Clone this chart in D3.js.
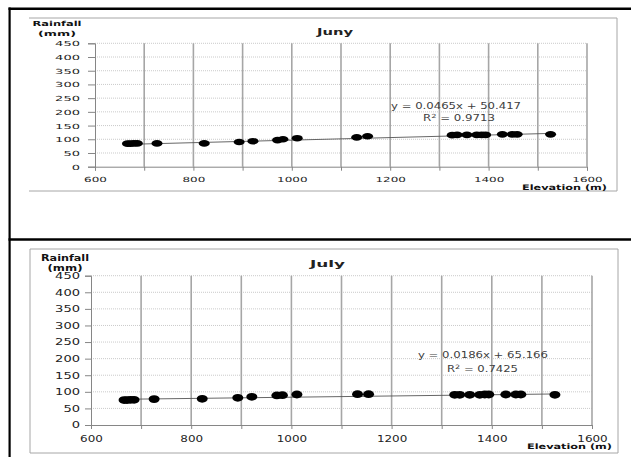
<!DOCTYPE html>
<html><head><meta charset="utf-8">
<script src="https://cdn.jsdelivr.net/npm/d3@7"></script>
<style>html,body{margin:0;padding:0;background:#fff;overflow:hidden}</style>
</head><body><svg id="c" width="631" height="457"></svg>
<script>
// ---------- data ----------
const elevation = [666,672,679,686,726,822,893,921,971,982,1011,1132,1154,1326,1336,1356,1376,1386,1394,1428,1448,1458,1526];
const juneRain  = [84,84,85,85,85,85,90,93,97,100,104,107,111,115,116,116,116,116,116,118,118,118,118];
const julyRain  = [75,75,76,76,78,79,82,85,89,90,92,93,93,91,91,91,91,92,92,92,92,92,91];
const chartTitles = ["Juny","July"];
const trendSlope = [0.0465, 0.0186];
const trendIntercept = [50.417, 65.166];
const trendR2 = [0.9713, 0.7425];
const yTickValues = [0,50,100,150,200,250,300,350,400,450];
const xGridValues = [600,700,800,900,1000,1100,1200,1300,1400,1500,1600];
const xLabelValues = [600,800,1000,1200,1400,1600];
const yAxisTitle = ["Rainfall","(mm)"];
const xAxisTitle = "Elevation (m)";

// ---------- layout ----------
const layouts = [
  {frame:{x:29,y:18,w:588,h:173,left:false}, plot:{l:95,r:587,b:166.7,t:43.3},
   yTick:{size:7,pad:8,font:7,cw:8.3}, xTick:{size:4,off:12.5,font:7,cw:7.6},
   yTitle:{cx:57,y:[23,33],w:[49,38],font:7}, title:{x:317,y:32,w:36,font:8.5},
   eq:{x:391,y:106,w:130,font:8,r2x:423,r2y:118,r2w:72},
   xTitle:{x:607,y:187,w:85,font:7.5}, dot:{rx:5.5,ry:3.3}},
  {frame:{x:30,y:249,w:588,h:204,left:true}, plot:{l:91,r:592,b:425,t:275.7},
   yTick:{size:6,pad:5,font:8,cw:8.3}, xTick:{size:4,off:14,font:8,cw:7.6},
   yTitle:{cx:65,y:[258,268],w:[48,35],font:8}, title:{x:310,y:264,w:35,font:9.5},
   eq:{x:418,y:355,w:130,font:8.5,r2x:447,r2y:369,r2w:71},
   xTitle:{x:612,y:446,w:85,font:7.5}, dot:{rx:5.5,ry:3.9}}
];
const series = [juneRain, julyRain];
const FONT = "DejaVu Sans";
const svg = d3.select("#c");

function txt(g, s, x, y, size, w, anchor, weight, fill){
  return g.append("text").attr("x",x).attr("y",y).attr("dy","0.36em")
    .attr("font-family",FONT).attr("font-size",size).attr("font-weight",weight||"normal")
    .attr("fill",fill||"#222").attr("text-anchor",anchor||"start")
    .attr("textLength",w).attr("lengthAdjust","spacingAndGlyphs").text(s);
}

layouts.forEach((L,i)=>{
  const g = svg.append("g");
  const P = L.plot;
  const x = d3.scaleLinear().domain([600,1600]).range([P.l,P.r]);
  const y = d3.scaleLinear().domain([0,450]).range([P.b,P.t]);
  const F = L.frame;
  // chart frame
  const fp = F.left
    ? `M${F.x},${F.y}H${F.x+F.w}V${F.y+F.h}H${F.x}Z`
    : `M${F.x},${F.y}H${F.x+F.w}V${F.y+F.h}H${F.x}`;
  g.append("path").attr("d",fp).attr("fill","none").attr("stroke","#a6a6a6").attr("stroke-width",1);
  // horizontal gridlines
  g.selectAll(".hg").data(yTickValues.filter(v=>v>0)).join("line")
    .attr("x1",P.l).attr("x2",P.r).attr("y1",d=>y(d)).attr("y2",d=>y(d))
    .attr("stroke","#bdbdbd").attr("stroke-width",0.8).attr("stroke-dasharray","1,1");
  // vertical gridlines
  g.selectAll(".vg").data(xGridValues.filter(v=>v>600)).join("line")
    .attr("x1",d=>x(d)).attr("x2",d=>x(d)).attr("y1",P.t).attr("y2",P.b)
    .attr("stroke","#a6a6a6").attr("stroke-width",1.6);
  // y axis
  const ya = g.append("g").attr("transform",`translate(${P.l},0)`)
    .call(d3.axisLeft(y).tickValues(yTickValues).tickSize(L.yTick.size).tickPadding(L.yTick.pad));
  ya.select(".domain").attr("stroke","#868686");
  ya.selectAll(".tick line").attr("stroke","#868686");
  ya.selectAll(".tick text").attr("font-family",FONT).attr("font-size",L.yTick.font)
    .attr("fill","#222").attr("dy","0.36em")
    .attr("textLength",d=>String(d).length*L.yTick.cw).attr("lengthAdjust","spacingAndGlyphs");
  // x axis
  const xa = g.append("g").attr("transform",`translate(0,${P.b})`)
    .call(d3.axisBottom(x).tickValues(xGridValues).tickSize(L.xTick.size)
      .tickFormat(d=>xLabelValues.includes(d)?String(d):""));
  xa.select(".domain").attr("stroke","#868686");
  xa.selectAll(".tick line").attr("stroke","#868686");
  xa.selectAll(".tick text").attr("font-family",FONT).attr("font-size",L.xTick.font)
    .attr("fill","#222").attr("y",L.xTick.off).attr("dy","0.36em")
    .attr("textLength",d=>xLabelValues.includes(d)?String(d).length*L.xTick.cw:null)
    .attr("lengthAdjust","spacingAndGlyphs");
  // trend line
  const ex = d3.extent(elevation);
  g.append("line").attr("x1",x(ex[0])).attr("x2",x(ex[1]))
    .attr("y1",y(trendSlope[i]*ex[0]+trendIntercept[i])).attr("y2",y(trendSlope[i]*ex[1]+trendIntercept[i]))
    .attr("stroke","#555").attr("stroke-width",0.9);
  // points
  g.selectAll(".pt").data(elevation.map((e,k)=>[e,series[i][k]])).join("ellipse")
    .attr("cx",d=>x(d[0])).attr("cy",d=>y(d[1])).attr("rx",L.dot.rx).attr("ry",L.dot.ry).attr("fill","#000");
  // texts
  txt(g, yAxisTitle[0], L.yTitle.cx, L.yTitle.y[0], L.yTitle.font, L.yTitle.w[0], "middle", "bold", "#111");
  txt(g, yAxisTitle[1], L.yTitle.cx, L.yTitle.y[1], L.yTitle.font, L.yTitle.w[1], "middle", "bold", "#111");
  txt(g, chartTitles[i], L.title.x, L.title.y, L.title.font, L.title.w, "start", "bold", "#222");
  txt(g, `y = ${trendSlope[i]}x + ${trendIntercept[i]}`, L.eq.x, L.eq.y, L.eq.font, L.eq.w, "start", "normal", "#404040");
  const r2 = g.append("text").attr("x",L.eq.r2x).attr("y",L.eq.r2y).attr("dy","0.36em")
    .attr("font-family",FONT).attr("font-size",L.eq.font).attr("fill","#404040")
    .attr("textLength",L.eq.r2w).attr("lengthAdjust","spacingAndGlyphs");
  r2.append("tspan").text("R");
  r2.append("tspan").attr("font-size",L.eq.font*0.7).attr("dy","-0.45em").text("2");
  r2.append("tspan").attr("dy","0.3em").text(` = ${trendR2[i]}`);
  txt(g, xAxisTitle, L.xTitle.x, L.xTitle.y, L.xTitle.font, L.xTitle.w, "end", "bold", "#111");
});

// outer black table lines
svg.append("line").attr("x1",8.5).attr("x2",631).attr("y1",8.7).attr("y2",8.7).attr("stroke","#000").attr("stroke-width",2.6);
svg.append("line").attr("x1",8.5).attr("x2",631).attr("y1",239.5).attr("y2",239.5).attr("stroke","#000").attr("stroke-width",2.6);
svg.append("line").attr("x1",9.6).attr("x2",9.6).attr("y1",7.4).attr("y2",457).attr("stroke","#000").attr("stroke-width",2.2);
</script></body></html>
